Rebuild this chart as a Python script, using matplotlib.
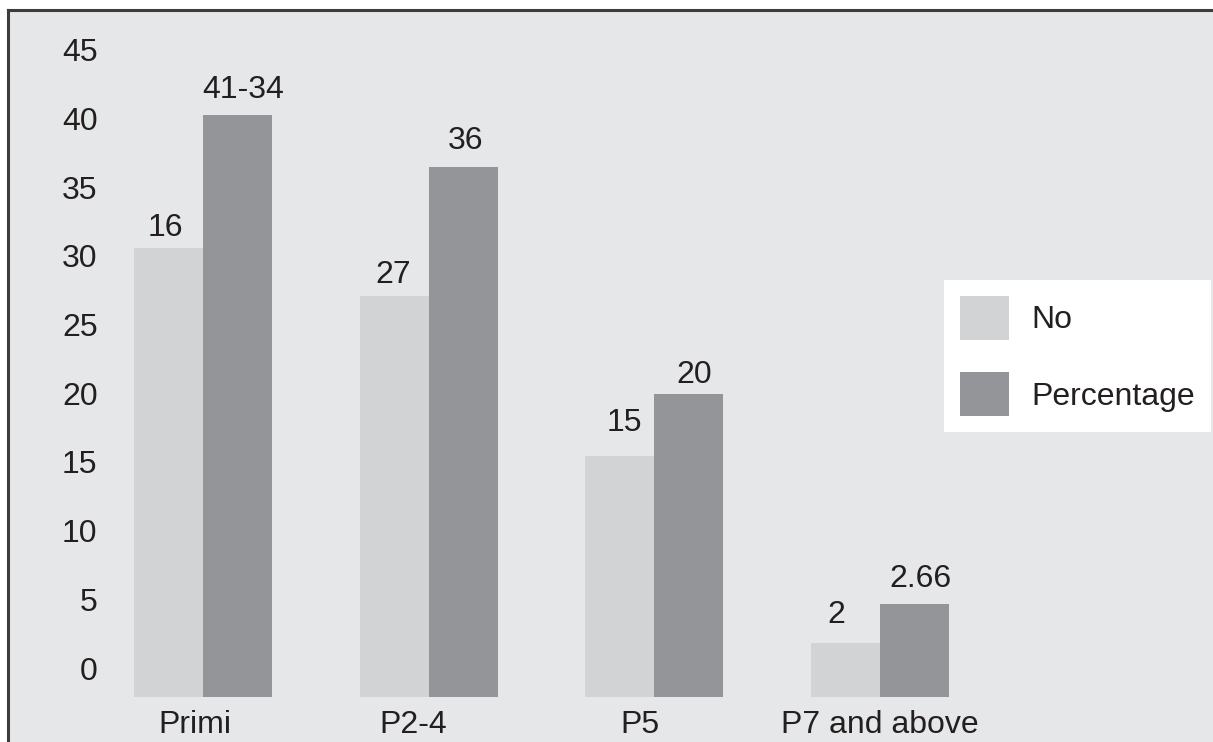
import matplotlib.pyplot as plt
from matplotlib.patches import Rectangle
from matplotlib.lines import Line2D
from matplotlib.transforms import ScaledTranslation

plt.rcParams['font.family'] = ['Liberation Sans', 'DejaVu Sans']

categories = ['Primi', 'P2-4', 'P5', 'P7 and above']
no_values = [30.6, 27.1, 15.4, 1.8]
pct_values = [40.25, 36.45, 19.95, 4.66]
no_labels = ['16', '27', '15', '2']
pct_labels = ['41-34', '36', '20', '2.66']
yticks = list(range(0, 50, 5))

# nudges for the value labels (points) and category labels (pixels)
no_nudge = [(-2.2, 8.6), (-0.9, 9.4), (3.2, 18.0), (-6.8, 14.4)]
pct_nudge = [(4.3, 12.0), (1.8, 13.3), (3.6, 8.1), (4.0, 12.2)]
cat_shift = [-8.5, -15.5, -14.5, 0]

bg = '#e6e7e8'
light = '#d1d3d4'
dark = '#939598'
ink = '#231f20'
fs = 23

W, H = 1213, 742
fig = plt.figure(figsize=(W / 100, H / 100), dpi=100, facecolor='white')

# grey panel with a dark rule on the top and left edges
panel = Rectangle((7.5 / W, 0), 1, 1 - 9.5 / H, transform=fig.transFigure,
                  facecolor=bg, edgecolor='none', zorder=-2)
fig.add_artist(panel)
fig.add_artist(Line2D([7.5 / W, 1], [1 - 9.5 / H] * 2, transform=fig.transFigure,
                      color='#3c3c3c', lw=2.2, zorder=-1))
fig.add_artist(Line2D([7.5 / W] * 2, [0, 1 - 9.5 / H], transform=fig.transFigure,
                      color='#3c3c3c', lw=2.2, zorder=-1))

ax = fig.add_axes([110 / W, (H - 696.6) / H, (W - 110) / W, (696.6 - 20) / H])
ax.set_facecolor('none')
ax.set_zorder(1)

ymin = -2.08
x = list(range(len(categories)))
w = 0.306
ax.bar([i - w / 2 for i in x], [v - ymin for v in no_values], w, bottom=ymin,
       color=light, label='No')
ax.bar([i + w / 2 for i in x], [v - ymin for v in pct_values], w, bottom=ymin,
       color=dark, label='Percentage')

for i in x:
    ax.annotate(no_labels[i], (i - w / 2, no_values[i]), xytext=no_nudge[i],
                textcoords='offset points', ha='center', va='baseline',
                fontsize=fs, color=ink)
    ax.annotate(pct_labels[i], (i + w / 2, pct_values[i]), xytext=pct_nudge[i],
                textcoords='offset points', ha='center', va='baseline',
                fontsize=fs, color=ink)

ax.set_xlim(-0.412, 4.475)
ax.set_ylim(ymin, 47.16)
ax.set_yticks(yticks)
ax.set_xticks(x)
ax.set_xticklabels(categories)
ax.tick_params(axis='both', length=0, labelsize=fs, colors=ink)
ax.tick_params(axis='y', pad=9)
ax.tick_params(axis='x', pad=10)
for s in ax.spines.values():
    s.set_visible(False)
for lab, dx in zip(ax.get_xticklabels(), cat_shift):
    lab.set_transform(lab.get_transform() + ScaledTranslation(dx / 100, 0, fig.dpi_scale_trans))

leg = ax.legend(loc='upper left', bbox_to_anchor=(944 / W, 1 - 280 / H),
                bbox_transform=fig.transFigure, fontsize=fs, frameon=True,
                fancybox=False, framealpha=1, edgecolor='white',
                handlelength=1.55, handleheight=1.75, handletextpad=0.7,
                labelspacing=1.0, borderpad=0.5, borderaxespad=0)
leg.get_frame().set_linewidth(0)
for t in leg.get_texts():
    t.set_color(ink)

fig.savefig('out.png', dpi=100, facecolor=fig.get_facecolor())
